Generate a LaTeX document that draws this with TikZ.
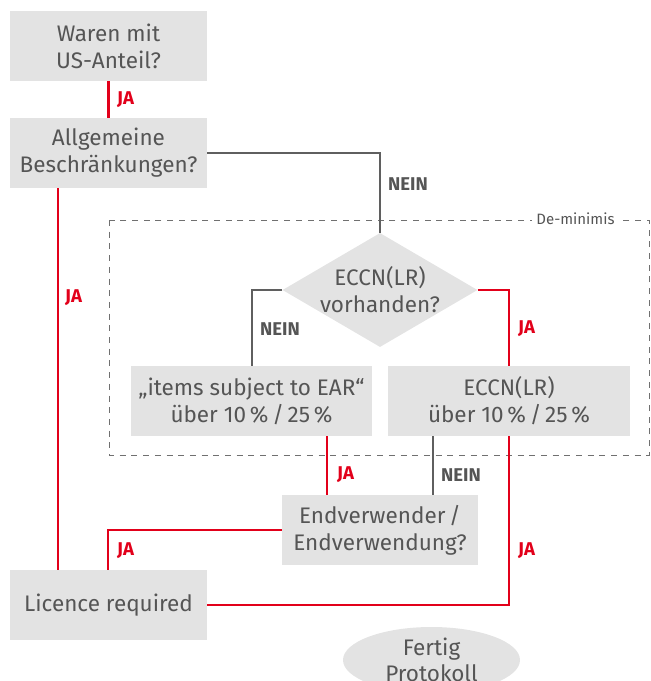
\documentclass[tikz,border=0pt]{standalone}
\usepackage{fontspec}
\setmainfont{Fira Sans}
\usetikzlibrary{shapes.geometric}
\definecolor{boxgray}{HTML}{E3E3E3}
\definecolor{ared}{HTML}{E2001A}
\definecolor{lgray}{HTML}{5F5F5F}
\definecolor{tgray}{HTML}{555555}
\definecolor{dgray}{HTML}{707070}
\begin{document}
\begin{tikzpicture}[x=1pt,y=-1pt,
  box/.style={rectangle, fill=boxgray, draw=none, inner sep=0pt, align=center,
    text=tgray, font=\fontsize{22.5}{27}\selectfont, minimum height=70pt},
  dia/.style={diamond, fill=boxgray, draw=none, inner sep=0pt, minimum width=195pt, minimum height=114pt},
  txt/.style={inner sep=0pt, align=center, text=tgray, font=\fontsize{22.5}{27}\selectfont},
  oval/.style={ellipse, fill=boxgray, draw=none, inner sep=0pt, align=center, text=tgray,
    font=\fontsize{22.5}{26}\selectfont, minimum width=177pt, minimum height=66pt},
  redline/.style={draw=ared, line width=2.4pt},
  grayline/.style={draw=lgray, line width=2.3pt},
  ja/.style={anchor=west, inner sep=0pt, text=ared, font=\fontsize{18.5}{18.5}\selectfont\bfseries},
  nein/.style={anchor=west, inner sep=0pt, text=tgray, font=\fontsize{18.5}{18.5}\selectfont\bfseries},
  region/.style={draw=dgray, line width=1pt, dash pattern=on 6pt off 5.7pt}
]
\useasboundingbox (0,0) rectangle (651,681);

% De-minimis region
\draw[region] (109,220) rectangle (649,455);
\node[fill=white, inner sep=4pt, text=tgray, font=\fontsize{15}{15}\selectfont] (dm) at (575.5,219) {De-minimis};

% Nodes
\node[box, minimum width=197pt] (b1) at (108.5,46) {Waren mit\\US-Anteil?};
\node[box, minimum width=197pt] (b2) at (108.5,153) {Allgemeine\\Beschränkungen?};
\node[dia] (d) at (380,290) {};
\node[txt] (dt) at (d.center) {ECCN(LR)\\vorhanden?};
\node[box, minimum width=241pt] (b3) at (251.5,401) {„items subject to EAR“\\über 10\,\%\,/\,25\,\%};
\node[box, minimum width=242pt] (b4) at (509,401) {ECCN(LR)\\über 10\,\%\,/\,25\,\%};
\node[box, minimum width=196pt] (b5) at (380,530) {Endverwender\,/\\Endverwendung?};
\node[box, minimum width=197pt] (b6) at (108.5,605) {Licence required};
\node[oval] (e) at (431.5,660) {Fertig\\Protokoll};

% Connectors
\draw[redline] (b1.south) -- (b2.north);
\draw[grayline] (b2.east) -| (d.north);
\draw[redline] (b2.south -| 58,0) -- (b6.north -| 58,0);
\draw[grayline] (d.west) -| (b3.north -| 252,0);
\draw[redline] (d.east) -| (b4.north -| 509,0);
\draw[redline] (b3.south -| 327,0) -- (b5.north -| 327,0);
\draw[grayline] (b4.south -| 433,0) -- (b5.north -| 433,0);
\draw[redline] (b4.south -| 509,0) |- (b6.east);
\draw[redline] (b5.west) -| (b6.north -| 108,0);

% Labels
\node[ja] (l1) at (117,100) {JA};
\node[nein] (l2) at (388,184) {NEIN};
\node[ja] (l3) at (65,298) {JA};
\node[nein] (l4) at (260,329) {NEIN};
\node[ja] (l5) at (518,329) {JA};
\node[ja] (l6) at (337,475) {JA};
\node[nein] (l7) at (441,475) {NEIN};
\node[ja] (l8) at (117,551) {JA};
\node[ja] (l9) at (518,551) {JA};
\end{tikzpicture}
\end{document}
